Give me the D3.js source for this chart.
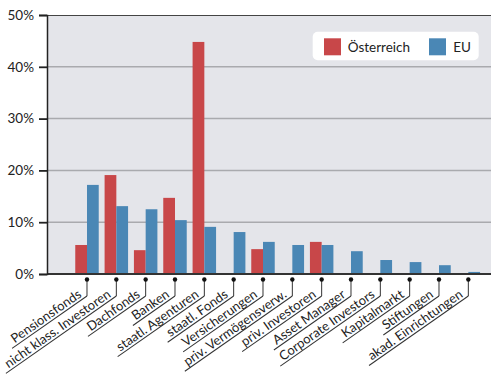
<!DOCTYPE html>
<html><head><meta charset="utf-8">
<script src="https://cdn.jsdelivr.net/npm/d3@7"></script>
<style>
html,body{margin:0;padding:0;background:#fff;}
svg{display:block;font-family:Lato, "Open Sans", sans-serif;}
</style></head>
<body><svg id="c" width="491" height="376"></svg>
<script>
const categories = ["Pensionsfonds","nicht klass. Investoren","Dachfonds","Banken","staatl. Agenturen","staatl. Fonds","Versicherungen","priv. Vermögensverw.","priv. Investoren","Asset Manager","Corporate Investors","Kapitalmarkt","Stiftungen","akad. Einrichtungen"];
const seriesNames = ["Österreich","EU"];
const austria = [5.6,19.1,4.6,14.7,44.8,0,4.8,0,6.2,0,0,0,0,0];
const eu = [17.2,13.1,12.5,10.4,9.1,8.1,6.2,5.6,5.6,4.4,2.7,2.3,1.7,0.4];
const yTicks = [0,10,20,30,40,50];
const colors = ["#c84749","#4a87b5"];

const svg = d3.select("#c");
const plot = {left:47, top:15, right:491, bottom:274};
const y = d3.scaleLinear().domain([0,50]).range([plot.bottom, plot.top]);
const x = d3.scaleBand().domain(categories).range([72.33, 483]).paddingInner(0.2).paddingOuter(0.1);
const x1 = d3.scaleBand().domain(seriesNames).range([0, x.bandwidth()]);

// background
svg.append("rect").attr("x",plot.left).attr("y",plot.top).attr("width",plot.right-plot.left).attr("height",plot.bottom-plot.top).attr("fill","#e4e5ea");

// grid
svg.append("g").selectAll("line").data(yTicks.filter(d=>d>0&&d<50)).join("line")
  .attr("x1",plot.left).attr("x2",plot.right).attr("y1",d=>y(d)).attr("y2",d=>y(d))
  .attr("stroke","#a9aaae").attr("stroke-width",1.5);

// bars
const data = categories.map((c,i)=>({c, vals:[austria[i], eu[i]]}));
const g = svg.append("g").selectAll("g").data(data).join("g").attr("transform",d=>`translate(${x(d.c)},0)`);
g.selectAll("rect").data(d=>d.vals.map((v,j)=>({v,s:seriesNames[j],j}))).join("rect")
  .attr("x",d=>x1(d.s)).attr("width",x1.bandwidth())
  .attr("y",d=>y(d.v)).attr("height",d=>y(0)-y(d.v))
  .attr("fill",d=>colors[d.j]);

// frame
svg.append("line").attr("x1",plot.left).attr("x2",plot.right).attr("y1",plot.top+0.5).attr("y2",plot.top+0.5).attr("stroke","#444").attr("stroke-width",1.2);
svg.append("line").attr("x1",plot.left).attr("x2",plot.right).attr("y1",plot.bottom).attr("y2",plot.bottom).attr("stroke","#333").attr("stroke-width",1.8);

// y axis
const yAxis = d3.axisLeft(y).tickValues(yTicks).tickFormat(d=>d+"%").tickSize(8).tickPadding(5);
const ya = svg.append("g").attr("transform",`translate(${plot.left},0)`).call(yAxis);
ya.select(".domain").attr("stroke","#222").attr("stroke-width",1.5);
ya.selectAll(".tick line").attr("stroke","#222").attr("stroke-width",1.8);
ya.selectAll(".tick text").attr("font-size",13.5).attr("fill","#222").attr("font-family","Lato, sans-serif");

// x labels
const lab = svg.append("g").selectAll("g").data(categories).join("g")
  .attr("transform",d=>`translate(${x(d)+x.bandwidth()/2},0)`);
lab.append("line").attr("x1",0).attr("x2",0).attr("y1",279.5).attr("y2",296).attr("stroke","#333").attr("stroke-width",1);
lab.append("circle").attr("cx",0).attr("cy",279.5).attr("r",2.2).attr("fill","#111");
const rot = lab.append("g").attr("transform","translate(0,296) rotate(-35)");
rot.append("text").text(d=>d).attr("x",-4).attr("y",-2.5).attr("text-anchor","end")
  .attr("font-size",13).attr("fill","#222");
rot.each(function(){
  const t = d3.select(this).select("text").node();
  const w = t.getComputedTextLength();
  d3.select(this).append("line").attr("x1",0).attr("x2",-w-9).attr("y1",0).attr("y2",0).attr("stroke","#333").attr("stroke-width",1);
});

// legend
const leg = svg.append("g");
leg.append("rect").attr("x",312.7).attr("y",31.7).attr("width",166).attr("height",28.6).attr("rx",5).attr("fill","#fff");
const items = [{n:seriesNames[0],c:colors[0],x:324,tx:347.7},{n:seriesNames[1],c:colors[1],x:429,tx:453.3}];
items.forEach(it=>{
  leg.append("rect").attr("x",it.x).attr("y",38.3).attr("width",17).attr("height",17).attr("fill",it.c);
  leg.append("text").attr("x",it.tx).attr("y",52).text(it.n).attr("font-size",13.5).attr("fill","#222");
});
</script></body></html>
